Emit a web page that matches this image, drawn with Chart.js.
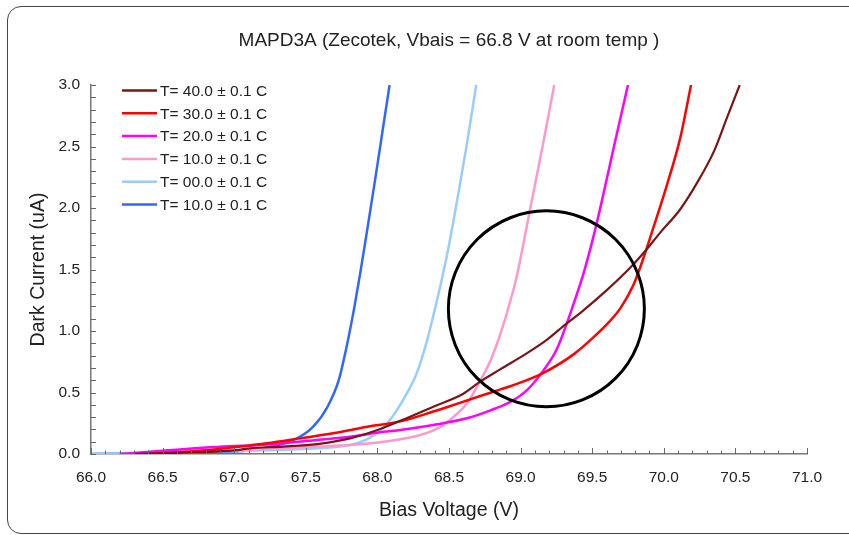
<!DOCTYPE html>
<html>
<head>
<meta charset="utf-8">
<script src="https://cdn.jsdelivr.net/npm/chart.js@4"></script>
<style>
  html, body { margin: 0; padding: 0; background: #fff; overflow: hidden; }
  #wrap { position: relative; width: 849px; height: 535px; }
  #frame {
    position: absolute; left: 7px; top: 6px; width: 900px; height: 526px;
    border: 1.5px solid #444; border-radius: 14px; pointer-events: none;
  }
</style>
</head>
<body>
<div id="wrap">
  <canvas id="myChart" width="849" height="535"></canvas>
  <div id="frame"></div>
</div>
<script>
// bias voltage (V) and dark current (uA), one pair per temperature
const legendLabels = [
  "T= 40.0 \u00b1 0.1 C",
  "T= 30.0 \u00b1 0.1 C",
  "T= 20.0 \u00b1 0.1 C",
  "T= 10.0 \u00b1 0.1 C",
  "T= 00.0 \u00b1 0.1 C",
  "T= 10.0 \u00b1 0.1 C",
];

const v40 = [66.3, 67.0, 67.11, 67.34, 67.58, 67.81, 68.0, 68.16, 68.39, 68.6, 68.72, 68.86, 69.045, 69.185, 69.32, 69.42, 69.6, 69.77, 69.87, 69.975, 70.115, 70.23, 70.35, 70.44, 70.53];
const i40 = [0.0, 0.03, 0.046, 0.06, 0.081, 0.127, 0.195, 0.27, 0.385, 0.49, 0.59, 0.69, 0.82, 0.93, 1.06, 1.15, 1.33, 1.52, 1.65, 1.8, 1.99, 2.2, 2.46, 2.73, 3.0];

const v30 = [66.4, 66.8, 67.0, 67.11, 67.23, 67.46, 67.69, 67.93, 68.16, 68.39, 68.51, 68.625, 68.74, 68.86, 68.975, 69.16, 69.37, 69.51, 69.615, 69.7, 69.79, 69.86, 69.93, 70.02, 70.115, 70.19];
const i30 = [0.0, 0.03, 0.055, 0.07, 0.087, 0.127, 0.168, 0.222, 0.265, 0.345, 0.39, 0.435, 0.48, 0.525, 0.57, 0.66, 0.81, 0.95, 1.07, 1.19, 1.38, 1.6, 1.85, 2.18, 2.57, 3.0];

const v20 = [66.2, 66.5, 67.0, 67.11, 67.34, 67.58, 67.81, 68.04, 68.16, 68.39, 68.625, 68.79, 68.93, 69.045, 69.16, 69.25, 69.31, 69.37, 69.44, 69.52, 69.57, 69.65, 69.75];
const i20 = [0.0, 0.027, 0.065, 0.068, 0.087, 0.114, 0.14, 0.18, 0.195, 0.236, 0.29, 0.355, 0.425, 0.52, 0.68, 0.845, 1.02, 1.22, 1.47, 1.82, 2.07, 2.49, 3.0];

const v10 = [66.4, 66.8, 67.2, 67.58, 67.81, 68.04, 68.3, 68.44, 68.53, 68.625, 68.72, 68.79, 68.86, 68.93, 68.975, 69.068, 69.16, 69.235];
const i10 = [0.0, 0.02, 0.04, 0.06, 0.073, 0.1, 0.154, 0.22, 0.3, 0.41, 0.6, 0.76, 0.98, 1.25, 1.455, 2.0, 2.54, 3.0];

const v00 = [66.0, 66.5, 67.11, 67.58, 67.857, 67.996, 68.09, 68.18, 68.276, 68.346, 68.4, 68.45, 68.5, 68.555, 68.625, 68.69];
const i00 = [0.0, 0.01, 0.027, 0.046, 0.087, 0.168, 0.28, 0.44, 0.66, 0.92, 1.17, 1.42, 1.7, 2.05, 2.52, 3.0];

const vLow = [66.0, 66.5, 67.0, 67.11, 67.25, 67.41, 67.55, 67.65, 67.73, 67.79, 67.84, 67.88, 67.93, 67.98, 68.03, 68.085];
const iLow = [0.0, 0.01, 0.02, 0.03, 0.06, 0.11, 0.22, 0.38, 0.6, 0.9, 1.2, 1.47, 1.83, 2.2, 2.58, 3.0];

// the hand-drawn circle marking the crossing region
const circleCenter = [69.18, 1.18];

const colors = ["#7b1616", "#ff0000", "#ff00ff", "#ff99cc", "#99ccff", "#3366ff"];
const widths = [2.2, 2.5, 2.5, 2.5, 2.5, 2.5];
const volts = [v40, v30, v20, v10, v00, vLow];
const currents = [i40, i30, i20, i10, i00, iLow];

const FONT = "'Liberation Sans', Arial, sans-serif";

const datasets = volts.map((vs, k) => ({
  label: legendLabels[k],
  data: vs.map((v, j) => ({ x: v, y: currents[k][j] })),
  showLine: true,
  borderColor: colors[k],
  backgroundColor: colors[k],
  borderWidth: widths[k],
  pointRadius: 0,
  cubicInterpolationMode: "monotone",
}));

datasets.push({
  label: "circle",
  data: [{ x: circleCenter[0], y: circleCenter[1] }],
  showLine: false,
  pointRadius: 98,
  pointBorderWidth: 3,
  pointBorderColor: "#000",
  pointBackgroundColor: "rgba(0,0,0,0)",
  order: -1,
});

// title, inward tick marks and legend are drawn by hand to match the original layout
const decorPlugin = {
  id: "decor",
  afterDraw(chart) {
    const ctx = chart.ctx;
    const area = chart.chartArea;
    const xs = chart.scales.x;
    const ys = chart.scales.y;

    ctx.save();
    ctx.fillStyle = "#222";
    ctx.font = "19px " + FONT;
    ctx.textAlign = "center";
    ctx.textBaseline = "middle";
    ctx.fillText("MAPD3A (Zecotek, Vbais = 66.8 V at room temp )", (area.left + area.right) / 2, 41);

    ctx.strokeStyle = "#666";
    ctx.lineWidth = 1;
    ctx.beginPath();
    for (let k = 0; k <= 50; k++) {
      const px = Math.round(xs.getPixelForValue(66 + k * 0.1)) + 0.5;
      const len = k % 5 === 0 ? 6 : 3.5;
      ctx.moveTo(px, area.bottom);
      ctx.lineTo(px, area.bottom - len);
    }
    for (let k = 0; k <= 30; k++) {
      const py = Math.round(ys.getPixelForValue(k * 0.1)) + 0.5;
      ctx.moveTo(area.left, py);
      ctx.lineTo(area.left + 5, py);
    }
    ctx.stroke();

    ctx.textAlign = "left";
    ctx.font = "15.5px " + FONT;
    for (let k = 0; k < legendLabels.length; k++) {
      const y = 90.5 + k * 22.8;
      ctx.strokeStyle = colors[k];
      ctx.lineWidth = 2.5;
      ctx.beginPath();
      ctx.moveTo(area.left + 31, y);
      ctx.lineTo(area.left + 66, y);
      ctx.stroke();
      ctx.fillStyle = "#222";
      ctx.fillText(legendLabels[k], area.left + 69, y + 1);
    }
    ctx.restore();
  },
};

const ctx = document.getElementById("myChart").getContext("2d");
new Chart(ctx, {
  type: "scatter",
  data: { datasets: datasets },
  options: {
    responsive: false,
    animation: false,
    devicePixelRatio: 1,
    layout: { autoPadding: false, padding: { top: 85, right: 42, left: 0, bottom: 0 } },
    plugins: {
      legend: { display: false },
      tooltip: { enabled: false },
      title: { display: false },
    },
    scales: {
      x: {
        type: "linear",
        min: 66,
        max: 71,
        afterFit: (scale) => { scale.height = 81; },
        grid: { display: false, drawTicks: false },
        border: { display: true, color: "#777", width: 1.5 },
        ticks: {
          stepSize: 0.5,
          padding: 14.5,
          color: "#222",
          font: { family: FONT, size: 15.5 },
          callback: (v) => v.toFixed(1),
        },
        title: {
          display: true,
          text: "Bias Voltage (V)",
          color: "#222",
          font: { family: FONT, size: 19.5 },
          padding: { top: 0, bottom: 13 },
        },
      },
      y: {
        type: "linear",
        min: 0,
        max: 3,
        afterFit: (scale) => { scale.width = 91; },
        grid: { display: false, drawTicks: false },
        border: { display: true, color: "#777", width: 1.5 },
        ticks: {
          stepSize: 0.5,
          padding: 11,
          color: "#222",
          font: { family: FONT, size: 15.5 },
          callback: (v) => v.toFixed(1),
        },
        title: {
          display: true,
          text: "Dark Current (uA)",
          color: "#222",
          font: { family: FONT, size: 19.5 },
          padding: { top: 26.5, bottom: 0 },
        },
      },
    },
  },
  plugins: [decorPlugin],
});
</script>
</body>
</html>
